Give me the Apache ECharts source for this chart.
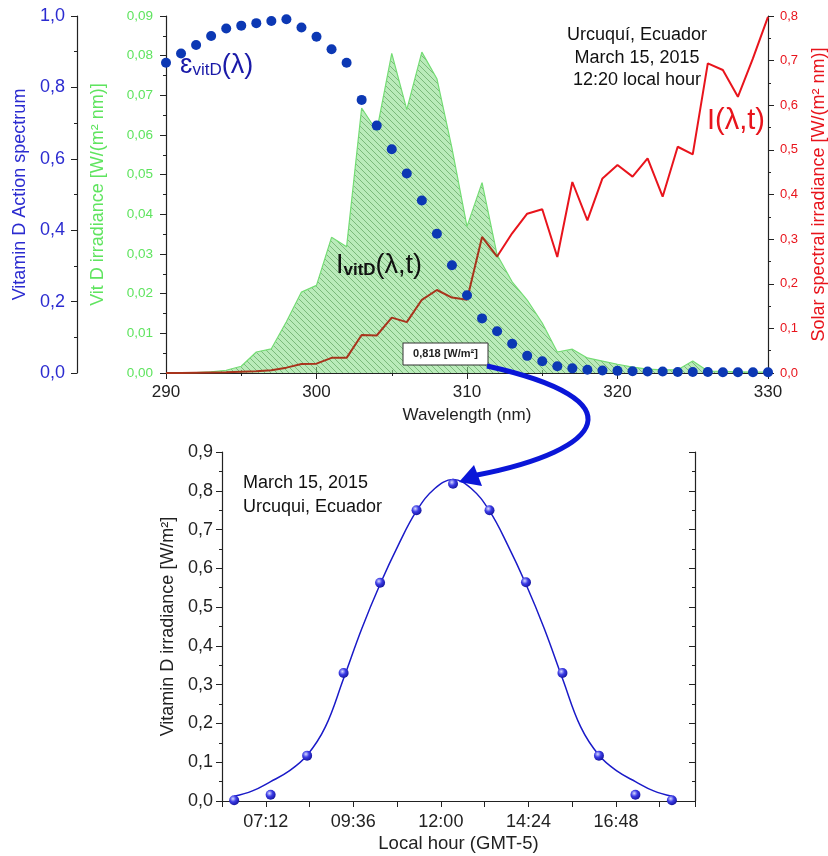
<!DOCTYPE html>
<html>
<head>
<meta charset="utf-8">
<title>Vitamin D irradiance</title>
<script src="https://cdn.jsdelivr.net/npm/echarts@6/dist/echarts.min.js"></script>
<style>
  html, body { margin: 0; padding: 0; background: #fff; }
  #chart { width: 828px; height: 856px; }
</style>
</head>
<body>
<div id="chart"></div>
<script>
// spectrum at 12:20, one value per nm
var wavelength = [290, 291, 292, 293, 294, 295, 296, 297, 298, 299,
  300, 301, 302, 303, 304, 305, 306, 307, 308, 309,
  310, 311, 312, 313, 314, 315, 316, 317, 318, 319,
  320, 321, 322, 323, 324, 325, 326, 327, 328, 329, 330];
var actionSpectrum = [0.869, 0.895, 0.919, 0.944, 0.965, 0.973, 0.980, 0.986, 0.991, 0.968,
  0.942, 0.907, 0.869, 0.765, 0.693, 0.627, 0.559, 0.483, 0.390, 0.302,
  0.218, 0.153, 0.117, 0.082, 0.048, 0.033, 0.019, 0.013, 0.009, 0.007,
  0.006, 0.005, 0.004, 0.004, 0.003, 0.003, 0.003, 0.002, 0.002, 0.002, 0.002];
var vitDIrradiance = [0, 0, 0.0001, 0.0003, 0.0007, 0.0017, 0.0053, 0.0061, 0.0129, 0.0204,
  0.0221, 0.0342, 0.0318, 0.0668, 0.0610, 0.0806, 0.0664, 0.0809, 0.0742, 0.0567,
  0.0369, 0.0480, 0.0298, 0.0230, 0.0184, 0.0126, 0.0053, 0.0060, 0.0038, 0.0030,
  0.0022, 0.0015, 0.0010, 0.0008, 0.0008, 0.0030, 0.0005, 0.0004, 0.0003, 0.0002, 0.0002];
var solarIrradiance = [0, 0, 0.0005, 0.001, 0.0015, 0.003, 0.004, 0.006, 0.012, 0.020,
  0.021, 0.034, 0.034, 0.085, 0.084, 0.124, 0.114, 0.164, 0.186, 0.169,
  0.164, 0.305, 0.261, 0.313, 0.357, 0.367, 0.260, 0.428, 0.342, 0.436,
  0.466, 0.440, 0.481, 0.395, 0.507, 0.490, 0.694, 0.679, 0.619, 0.705, 0.798];

// daily course, minutes after midnight
var hourPoints = [380, 440, 500, 560, 620, 680, 740, 800, 860, 920, 980, 1040, 1100];
var dailyVitD = [0.002, 0.016, 0.117, 0.330, 0.563, 0.750, 0.818, 0.750, 0.564, 0.330, 0.117, 0.016, 0.002];
var fitHours = [380, 410, 440, 470, 500, 530, 560, 590, 620, 650, 680, 710, 740,
  770, 800, 830, 860, 890, 920, 950, 980, 1010, 1040, 1070, 1100];
var fitVitD = [0.012, 0.026, 0.050, 0.077, 0.118, 0.191, 0.316, 0.445, 0.559, 0.660, 0.748, 0.806, 0.829,
  0.806, 0.748, 0.660, 0.559, 0.445, 0.316, 0.191, 0.118, 0.077, 0.050, 0.026, 0.012];
var hourLabels = ['07:12', '09:36', '12:00', '14:24', '16:48'];

var FONT = '"Liberation Sans", Arial, sans-serif';
var BLUE = '#2b2bd0', GREEN = '#5fe45f', RED = '#e8141c', INK = '#222';

function zip(xs, ys) {
  return xs.map(function (x, i) { return [x, ys[i]]; });
}
function comma(d) {
  return function (v) { return v.toFixed(d).replace('.', ','); };
}
function clock(v) {
  var h = Math.floor(v / 60), m = Math.round(v - h * 60);
  var s = (h < 10 ? '0' : '') + h + ':' + (m < 10 ? '0' : '') + m;
  return hourLabels.indexOf(s) >= 0 ? s : '';
}
function hatch() {
  var c = document.createElement('canvas');
  c.width = 6; c.height = 6;
  var ctx = c.getContext('2d');
  ctx.fillStyle = 'rgba(140,222,140,0.6)';
  ctx.fillRect(0, 0, 6, 6);
  ctx.strokeStyle = 'rgba(60,135,60,0.5)';
  ctx.lineWidth = 1;
  ctx.beginPath();
  ctx.moveTo(0, 0); ctx.lineTo(6, 6);
  ctx.moveTo(-3, 3); ctx.lineTo(3, 9);
  ctx.moveTo(3, -3); ctx.lineTo(9, 3);
  ctx.stroke();
  return c;
}

function frameAxis(grid, pos, min, max, interval) {
  return {
    gridIndex: grid, type: 'value', position: pos, min: min, max: max, interval: interval,
    axisLine: { show: true, lineStyle: { color: INK, width: 1.2 } },
    axisTick: { show: true, inside: true, length: 6, lineStyle: { color: INK } },
    minorTick: { show: true, splitNumber: 2, length: 3, lineStyle: { color: INK } },
    axisLabel: { show: false },
    splitLine: { show: false }
  };
}
function sideAxis(o) {
  return {
    gridIndex: o.grid, type: 'value', position: o.pos, offset: o.offset || 0,
    min: o.min, max: o.max, interval: o.interval,
    axisLine: { show: true, onZero: false, lineStyle: { color: INK, width: 1.2 } },
    axisTick: { show: true, inside: !!o.inside, length: 6, lineStyle: { color: INK } },
    minorTick: { show: o.minor !== false, splitNumber: 2, length: 3, lineStyle: { color: INK } },
    axisLabel: { color: o.color, fontSize: o.fontSize || 14, fontFamily: FONT, margin: o.margin || 8, formatter: o.fmt },
    splitLine: { show: false },
    name: o.name, nameLocation: 'middle', nameGap: o.gap, nameRotate: o.rotate,
    nameTextStyle: { color: o.color, fontSize: o.nameSize || 18, fontFamily: FONT }
  };
}

// red line turns brown where it runs under the green area (up to ~312 nm)
var underGreen = (312.1 - 290) / 40;

var chart = echarts.init(document.getElementById('chart'));
chart.setOption({
  backgroundColor: '#fff',
  animation: false,
  grid: [
    { left: 166, right: 60, top: 16, bottom: 483, containLabel: false, outerBoundsMode: 'none' },
    { left: 222, right: 133, top: 452, bottom: 55, containLabel: false, outerBoundsMode: 'none' }
  ],
  xAxis: [
    sideAxis({ grid: 0, pos: 'bottom', min: 290, max: 330, interval: 10, inside: true, color: INK,
      fontSize: 17, margin: 11, name: 'Wavelength (nm)', nameSize: 17, gap: 34 }),
    frameAxis(0, 'top', 290, 330, 10),
    sideAxis({ grid: 1, pos: 'bottom', min: 360, max: 1138, interval: 72, minor: false, color: INK,
      fontSize: 18, margin: 12, fmt: clock, name: 'Local hour (GMT-5)', nameSize: 18.5, gap: 33 }),
    Object.assign(frameAxis(1, 'top', 360, 1138, 72), { minorTick: { show: false } })
  ],
  yAxis: [
    sideAxis({ grid: 0, pos: 'left', min: 0, max: 0.09, interval: 0.01, color: GREEN, fontSize: 13.5,
      margin: 13, fmt: comma(2), name: 'Vit D irradiance [W/(m² nm)]', gap: 59, rotate: 90 }),
    sideAxis({ grid: 0, pos: 'left', offset: 89, min: 0, max: 1, interval: 0.2, color: BLUE, fontSize: 18,
      margin: 12, fmt: comma(1), name: 'Vitamin D Action spectrum', gap: 47, rotate: 90 }),
    sideAxis({ grid: 0, pos: 'right', min: 0, max: 0.8, interval: 0.1, color: RED, fontSize: 13,
      margin: 12, fmt: comma(1), name: 'Solar spectral irradiance [W/(m² nm)]', gap: 42, rotate: 90 }),
    sideAxis({ grid: 1, pos: 'left', min: 0, max: 0.9, interval: 0.1, color: INK, fontSize: 18,
      margin: 9, fmt: comma(1), name: 'Vitamin D irradiance [W/m²]', gap: 45, rotate: 90 }),
    frameAxis(1, 'right', 0, 0.9, 0.1)
  ],
  series: [
    {
      name: 'vitD', type: 'line', xAxisIndex: 0, yAxisIndex: 0, z: 2,
      data: zip(wavelength, vitDIrradiance), showSymbol: false,
      lineStyle: { color: '#74dc74', width: 1.2 },
      areaStyle: { color: { image: hatch(), repeat: 'repeat' }, opacity: 1 }
    },
    {
      name: 'solar', type: 'line', xAxisIndex: 0, yAxisIndex: 2, z: 3,
      data: zip(wavelength, solarIrradiance), showSymbol: false,
      lineStyle: {
        width: 2,
        color: {
          type: 'linear', x: 0, y: 0, x2: 1, y2: 0,
          colorStops: [{ offset: 0, color: '#a8341c' }, { offset: underGreen, color: '#a8341c' },
            { offset: underGreen, color: RED }, { offset: 1, color: RED }]
        }
      }
    },
    {
      name: 'action', type: 'scatter', xAxisIndex: 0, yAxisIndex: 1, z: 4,
      data: zip(wavelength, actionSpectrum), symbolSize: 10,
      itemStyle: { color: '#0c38b4', opacity: 1 }
    },
    {
      name: 'fit', type: 'line', xAxisIndex: 2, yAxisIndex: 3, z: 2,
      data: zip(fitHours, fitVitD), showSymbol: false, smooth: 0.4,
      lineStyle: { color: '#1a1ac8', width: 1.5 }
    },
    {
      name: 'daily', type: 'scatter', xAxisIndex: 2, yAxisIndex: 3, z: 3,
      data: zip(hourPoints, dailyVitD), symbolSize: 10,
      itemStyle: {
        opacity: 1,
        color: {
          type: 'radial', x: 0.38, y: 0.35, r: 0.7,
          colorStops: [{ offset: 0, color: '#d8dcff' }, { offset: 0.45, color: '#3c3ce6' }, { offset: 1, color: '#12129a' }]
        }
      }
    }
  ],
  graphic: [
    { type: 'text', left: 180, top: 52, z: 100, style: {
      text: '{e|ɛ}{s|vitD}{e|(λ)}', fontFamily: FONT,
      rich: { e: { fontSize: 27, fill: '#1a1aa8', fontFamily: FONT, verticalAlign: 'bottom' },
              s: { fontSize: 17, fill: '#1a1aa8', fontFamily: FONT, verticalAlign: 'bottom' } } } },
    { type: 'text', left: 336, top: 252, z: 100, style: {
      text: '{e|I}{s|vitD}{e|(λ,t)}', fontFamily: FONT,
      rich: { e: { fontSize: 27, fill: '#111', fontFamily: FONT, verticalAlign: 'bottom' },
              s: { fontSize: 17, fill: '#111', fontWeight: 'bold', fontFamily: FONT, verticalAlign: 'bottom' } } } },
    { type: 'text', left: 707, top: 106, z: 100, style: {
      text: 'I(λ,t)', fontSize: 29, fill: RED, fontFamily: FONT } },
    { type: 'text', x: 637, y: 24, z: 100, style: {
      text: 'Urcuquí, Ecuador\nMarch 15, 2015\n12:20 local hour', fontSize: 18, lineHeight: 22.5,
      fill: '#111', fontFamily: FONT, align: 'center' } },
    { type: 'text', left: 243, top: 471, z: 100, style: {
      text: 'March 15, 2015\nUrcuqui, Ecuador', fontSize: 18, lineHeight: 24,
      fill: '#111', fontFamily: FONT } },
    { type: 'rect', z: 100, shape: { x: 403, y: 343, width: 85, height: 22 },
      style: { fill: '#fff', stroke: '#333', lineWidth: 1 } },
    { type: 'text', z: 101, x: 445.5, y: 354, style: { text: '0,818 [W/m²]', fontSize: 11, fontWeight: 'bold',
      fill: '#222', fontFamily: FONT, align: 'center', verticalAlign: 'middle' } },
    { type: 'bezierCurve', z: 100, shape: { x1: 487, y1: 366, cpx1: 640, cpy1: 400, cpx2: 605, cpy2: 450, x2: 477, y2: 475 },
      style: { stroke: '#0a16d8', lineWidth: 5, fill: null } },
    { type: 'polygon', z: 100, shape: { points: [[459, 482], [482, 486], [474, 465]] },
      style: { fill: '#0a16d8' } }
  ]
});
</script>
</body>
</html>
